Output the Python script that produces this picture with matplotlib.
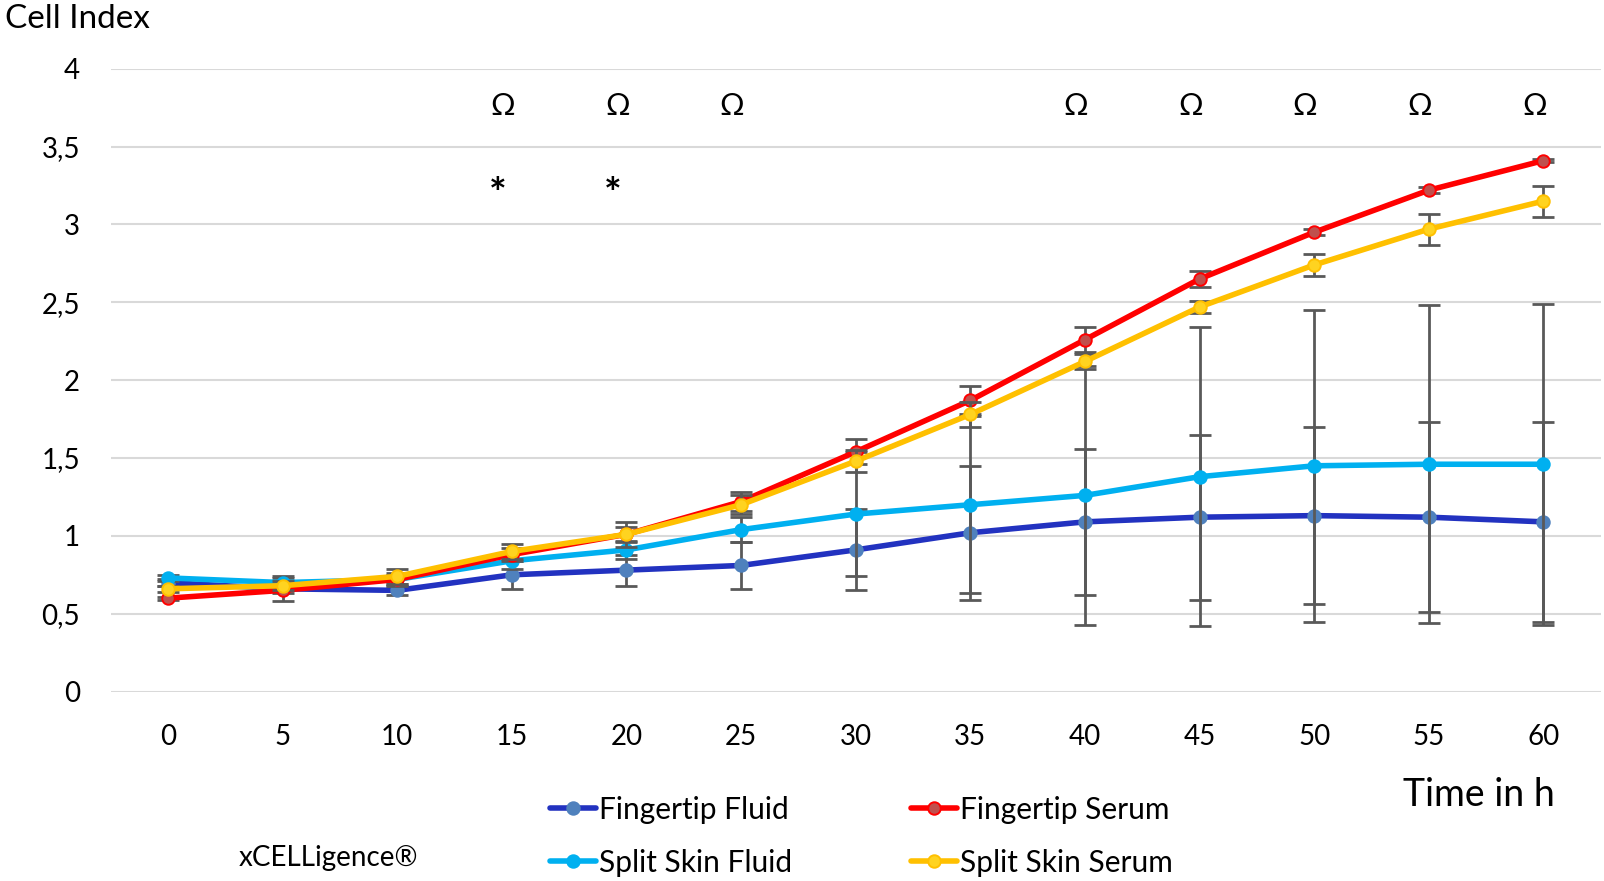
import matplotlib
matplotlib.use("Agg")
import matplotlib.pyplot as plt

plt.rcParams['font.family'] = ['Lato', 'DejaVu Sans']

# ---- data ----
time_h = [0, 5, 10, 15, 20, 25, 30, 35, 40, 45, 50, 55, 60]
fingertip_fluid = [0.70, 0.66, 0.65, 0.75, 0.78, 0.81, 0.91, 1.02, 1.09, 1.12, 1.13, 1.12, 1.09]
fingertip_fluid_err = [0.02, 0.08, 0.03, 0.09, 0.10, 0.15, 0.26, 0.43, 0.47, 0.53, 0.57, 0.61, 0.64]
split_skin_fluid = [0.73, 0.70, 0.72, 0.84, 0.91, 1.04, 1.14, 1.20, 1.26, 1.38, 1.45, 1.46, 1.46]
split_skin_fluid_err = [0.02, 0.03, 0.04, 0.05, 0.06, 0.08, 0.40, 0.57, 0.83, 0.96, 1.00, 1.02, 1.03]
fingertip_serum = [0.60, 0.65, 0.72, 0.88, 1.01, 1.22, 1.54, 1.87, 2.26, 2.65, 2.95, 3.22, 3.41]
fingertip_serum_err = [0.01, 0.02, 0.03, 0.04, 0.05, 0.06, 0.08, 0.09, 0.08, 0.05, 0.02, 0.02, 0.01]
split_skin_serum = [0.66, 0.68, 0.74, 0.90, 1.01, 1.20, 1.48, 1.78, 2.12, 2.47, 2.74, 2.97, 3.15]
split_skin_serum_err = [0.02, 0.03, 0.05, 0.05, 0.08, 0.06, 0.07, 0.08, 0.05, 0.04, 0.07, 0.10, 0.10]

y_ticks = [0, 0.5, 1, 1.5, 2, 2.5, 3, 3.5, 4]
y_tick_labels = ['0', '0,5', '1', '1,5', '2', '2,5', '3', '3,5', '4']
omega_times = [15, 20, 25, 40, 45, 50, 55, 60]
star_times = [15, 20]

series = [
    ("Fingertip Fluid", fingertip_fluid, fingertip_fluid_err, "#2232C0", "#4F81BD", "#4F81BD"),
    ("Split Skin Fluid", split_skin_fluid, split_skin_fluid_err, "#00B0F0", "#00B0F0", "#00B0F0"),
    ("Fingertip Serum", fingertip_serum, fingertip_serum_err, "#FF0000", "#C0504D", "#FF0000"),
    ("Split Skin Serum", split_skin_serum, split_skin_serum_err, "#FFC000", "#FFD320", "#FFC000"),
]

fig = plt.figure(figsize=(16.04, 8.81), dpi=100)
ax = fig.add_axes([0.069, 0.215, 0.929, 0.707])

handles = {}
for i, (name, vals, err, lc, mfc, mec) in enumerate(series):
    ax.errorbar(time_h, vals, yerr=err, fmt='none', ecolor='#595959',
                elinewidth=2.0, capsize=8, capthick=2.0, zorder=2 + i * 2)
    ln, = ax.plot(time_h, vals, color=lc, lw=4.0, marker='o', markersize=9,
                  markerfacecolor=mfc, markeredgecolor=mec, markeredgewidth=1.4,
                  zorder=3 + i * 2, solid_capstyle='round')
    handles[name] = ln

ax.set_xlim(-2.5, 62.5)
ax.set_ylim(0, 4)
ax.set_xticks(time_h)
ax.set_xticklabels([str(t) for t in time_h])
ax.set_yticks(y_ticks)
ax.set_yticklabels(y_tick_labels)
ax.tick_params(axis='both', length=0, labelsize=20, colors='#000000')
ax.tick_params(axis='x', pad=23)
ax.tick_params(axis='y', pad=22)
ax.grid(axis='y', color='#D9D9D9', lw=1.5)
ax.set_axisbelow(True)
for s in ax.spines.values():
    s.set_visible(False)

for t in omega_times:
    ax.text(t - 0.4, 3.76, "Ω", ha='center', va='center', fontsize=22)
for t in star_times:
    ax.text(t - 0.6, 3.18, "*", ha='center', va='center', fontsize=30,
            fontweight='bold')

fig.text(0.003, 0.979, "Cell Index", ha='left', va='center', fontsize=24)
fig.text(0.922, 0.098, "Time in h", ha='center', va='center', fontsize=27)
fig.text(0.2045, 0.026, "xCELLigence®", ha='center', va='center', fontsize=20)

order = ["Fingertip Fluid", "Split Skin Fluid", "Fingertip Serum", "Split Skin Serum"]
leg = fig.legend([handles[n] for n in order], order, ncol=2, loc='upper left',
                 bbox_to_anchor=(0.343, 0.097), frameon=False, fontsize=21.5,
                 handlelength=1.55, handletextpad=0.1, columnspacing=3.95,
                 labelspacing=0.85, borderpad=0, borderaxespad=0, markerscale=1.0)

fig.savefig("out.png", dpi=100)
